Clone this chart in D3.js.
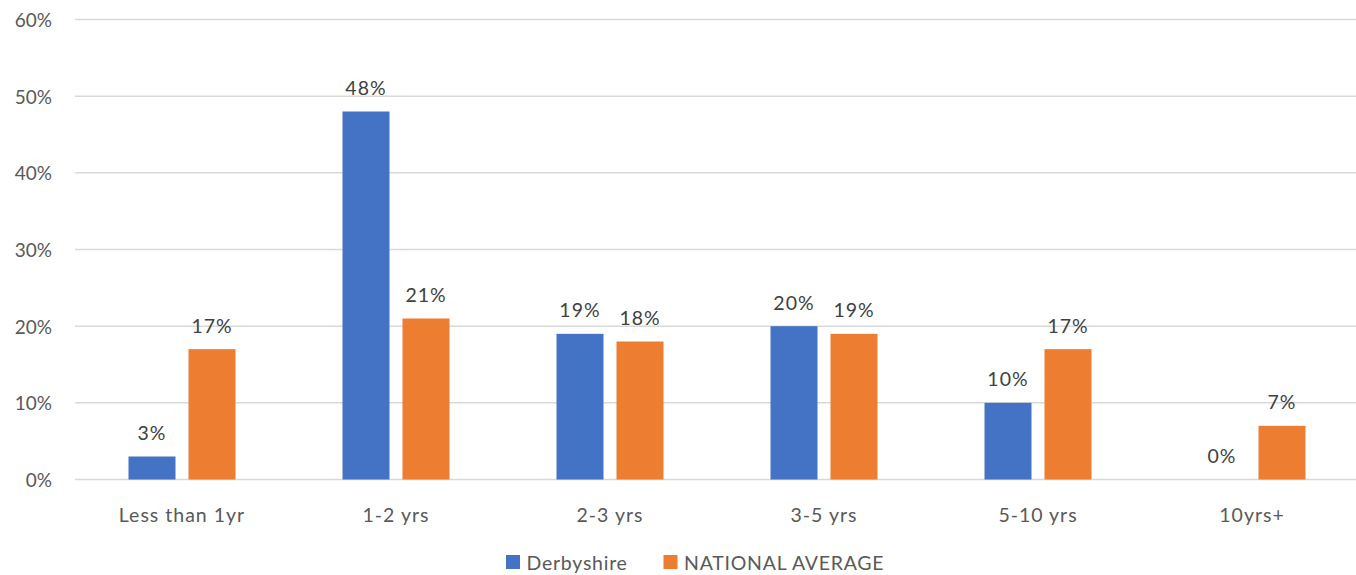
<!DOCTYPE html>
<html>
<head>
<meta charset="utf-8">
<script src="https://cdn.jsdelivr.net/npm/d3@7"></script>
<style>
  html, body { margin: 0; padding: 0; background: #fff; overflow: hidden; }
  svg { display: block; font-family: Lato, "Open Sans", sans-serif; }
</style>
</head>
<body>
<script>
const categories = ["Less than 1yr", "1-2 yrs", "2-3 yrs", "3-5 yrs", "5-10 yrs", "10yrs+"];
const seriesNames = ["Derbyshire", "NATIONAL AVERAGE"];
const derbyshire = [3, 48, 19, 20, 10, 0];
const nationalAverage = [17, 21, 18, 19, 17, 7];
const yTicks = [0, 10, 20, 30, 40, 50, 60];
const colors = ["#4472C4", "#ED7D31"];

const W = 1356, H = 575;
const svg = d3.select("body").append("svg").attr("width", W).attr("height", H);

const x0 = d3.scaleBand().domain(categories).range([75, 1359]).padding(0);
const x1 = d3.scaleBand().domain(seriesNames)
  .range([x0.bandwidth() * 0.25, x0.bandwidth() * 0.75]).paddingInner(0.2167).paddingOuter(0);
const y = d3.scaleLinear().domain([0, 60]).range([479.5, 19.5]);

// gridlines
svg.append("g").selectAll("line").data(yTicks).join("line")
  .attr("x1", 75).attr("x2", W)
  .attr("y1", d => y(d)).attr("y2", d => y(d))
  .attr("stroke", "#D9D9D9").attr("stroke-width", 1.5);

const yAxis = d3.axisLeft(y).tickValues(yTicks).tickFormat(d => d + "%").tickSize(0).tickPadding(0);
const yg = svg.append("g").attr("transform", "translate(52,0)").call(yAxis);
yg.select(".domain").remove();
yg.selectAll("text").attr("fill", "#595959").style("font-size", "19px")
  .style("font-family", "Lato, 'Open Sans', sans-serif").attr("dy", "0.36em");

// x axis labels
const xAxis = d3.axisBottom(x0).tickSize(0).tickPadding(0);
const xg = svg.append("g").attr("transform", "translate(0,522)").call(xAxis);
xg.select(".domain").remove();
xg.selectAll("text").attr("fill", "#595959").attr("dy", 0).attr("y", 0)
  .style("font-size", "19.5px").style("letter-spacing", "1px")
  .style("font-family", "Lato, 'Open Sans', sans-serif");

const data = categories.map((c, i) => ({
  cat: c,
  vals: [
    { s: seriesNames[0], v: derbyshire[i], c: colors[0] },
    { s: seriesNames[1], v: nationalAverage[i], c: colors[1] }
  ]
}));

const groups = svg.append("g").selectAll("g").data(data).join("g")
  .attr("transform", d => `translate(${x0(d.cat)},0)`);

groups.selectAll("rect").data(d => d.vals).join("rect")
  .attr("x", d => x1(d.s))
  .attr("width", x1.bandwidth())
  .attr("y", d => y(d.v))
  .attr("height", d => y(0) - y(d.v))
  .attr("fill", d => d.c);

groups.selectAll("text").data(d => d.vals).join("text")
  .attr("x", d => x1(d.s) + x1.bandwidth() / 2)
  .attr("y", d => y(d.v) - 16.5)
  .attr("text-anchor", "middle")
  .attr("fill", "#404040")
  .style("font-size", "19.5px")
  .style("letter-spacing", "1px")
  .text(d => d.v + "%");

// legend
const legendX = [506, 663.5];
const lg = svg.append("g").selectAll("g").data(seriesNames).join("g")
  .attr("transform", (d, i) => `translate(${legendX[i]},555)`);
lg.append("rect").attr("width", 14).attr("height", 14).attr("fill", (d, i) => colors[i]);
lg.append("text").attr("x", 20.5).attr("y", 15)
  .attr("fill", "#595959").style("font-size", "19.5px").style("letter-spacing", "0.75px")
  .text(d => d);
</script>
</body>
</html>
